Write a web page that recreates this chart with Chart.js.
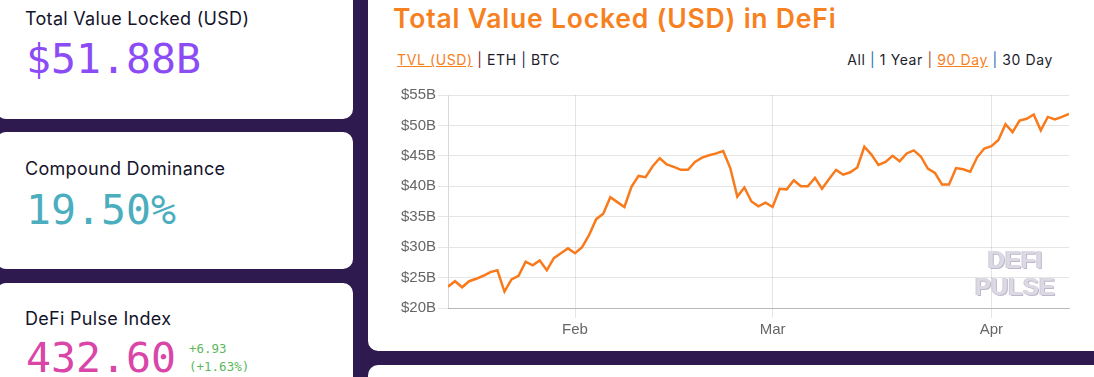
<!DOCTYPE html>
<html>
<head>
<meta charset="utf-8">
<script src="https://cdn.jsdelivr.net/npm/chart.js@4.4.0/dist/chart.umd.min.js"></script>
<style>
  body { margin: 0; width: 1094px; height: 377px; overflow: hidden; background: #2e1a4f; position: relative; font-family: Inter, "Noto Sans", sans-serif; }
  .card { position: absolute; background: #fff; border-radius: 10px; }
  .abs { position: absolute; white-space: nowrap; line-height: 1; }
  .label { font-size: 18px; color: #14142b; letter-spacing: 0.3px; }
  .big { font-family: "DejaVu Sans Mono", monospace; font-size: 41.5px; }
  .small { font-family: "DejaVu Sans Mono", monospace; font-size: 12.5px; color: #5cb85c; }
  .links { font-size: 14px; color: #1d1d2b; letter-spacing: 0.6px; }
  .links .on { color: #f7801f; text-decoration: underline; }
  #watermark { position: absolute; left: 955px; top: 246px; width: 120px; text-align: center; font-family: "Liberation Sans", Arial, sans-serif; font-weight: bold; font-size: 24px; line-height: 27px; color: #dcd9e4; text-shadow: 1px 1px 0 #bdb8cb, -1px 0 0 #cdc9d8; pointer-events: none; }
</style>
</head>
<body>
<div class="card" style="left:-4px; top:-20px; width:357px; height:139px;"></div>
<div class="card" style="left:-4px; top:132px; width:357px; height:137px;"></div>
<div class="card" style="left:-4px; top:283px; width:357px; height:150px;"></div>
<div class="card" style="left:368px; top:-20px; width:760px; height:371px;"></div>
<div class="card" style="left:368px; top:365px; width:760px; height:60px;"></div>

<div class="abs label" style="left:25px; top:10px;">Total Value Locked (USD)</div>
<div class="abs big" style="left:26px; top:38px; color:#8b4cf6;">$51.88B</div>
<div class="abs label" style="left:25px; top:160px;">Compound Dominance</div>
<div class="abs big" style="left:26px; top:189px; color:#4aaebf;">19.50%</div>
<div class="abs label" style="left:25px; top:310px;">DeFi Pulse Index</div>
<div class="abs big" style="left:26px; top:337px; color:#d946a8;">432.60</div>
<div class="abs small" style="left:189px; top:343px;">+6.93</div>
<div class="abs small" style="left:189px; top:361px;">(+1.63%)</div>

<div class="abs" style="left:393px; top:5px; font-size:26.5px; font-weight:600; letter-spacing:0.8px; color:#f7801f;">Total Value Locked (USD) in DeFi</div>
<div class="abs links" style="left:397px; top:53px;"><span class="on">TVL (USD)</span> <span style="color:#8b1a3a">|</span> ETH <span style="color:#1a2a5a">|</span> BTC</div>
<div class="abs links" style="right:41px; top:53px;">All <span style="color:#1f6fb5">|</span> 1 Year <span style="color:#a0522d">|</span> <span class="on">90 Day</span> <span style="color:#1f6fb5">|</span> 30 Day</div>

<div style="position:absolute; left:380px; top:80px; width:700px; height:260px;">
  <canvas id="tvlChart"></canvas>
</div>
<div id="watermark">DEFI<br>PULSE</div>

<script>
// ======================== Data (90 days, Jan 14 - Apr 12) ========================
const tvlUsdB = [23.5,24.4,23.4,24.4,24.8,25.3,25.9,26.2,22.7,24.7,
                 25.3,27.6,27.0,27.8,26.2,28.2,29.0,29.8,29.0,30.0,
                 32.0,34.6,35.5,38.2,37.4,36.6,39.9,41.7,41.5,43.3,
                 44.6,43.6,43.2,42.7,42.7,44.0,44.7,45.1,45.4,45.8,
                 43.0,38.3,39.8,37.5,36.7,37.3,36.6,39.6,39.5,41.0,
                 40.0,40.0,41.4,39.6,41.2,42.7,41.9,42.3,43.1,46.5,
                 45.2,43.5,44.0,45.0,44.1,45.4,45.9,44.9,42.9,42.2,
                 40.3,40.3,43.0,42.8,42.4,44.8,46.2,46.6,47.6,50.2,
                 48.9,50.8,51.1,51.8,49.2,51.4,51.0,51.4,51.88];
const monthTickDays = [18, 46, 77];          // day index of Feb 1, Mar 1, Apr 1
const monthLabels = ["Feb", "Mar", "Apr"];
const yTicks = [20, 25, 30, 35, 40, 45, 50, 55];

// ======================== Chart ========================
let ctx = document.getElementById('tvlChart').getContext('2d');

let tvlChart = new Chart(ctx, {
    type: 'line',
    data: {
        datasets: [{
            label: 'TVL (USD)',
            data: tvlUsdB.map((v, i) => ({ x: i, y: v })),
            borderColor: '#f97a1b',
            borderWidth: 2.5,
            pointRadius: 0,
            tension: 0,
            fill: false
        }]
    },
    options: {
        responsive: true,
        maintainAspectRatio: false,
        animation: false,
        layout: { padding: { top: 15, right: 11 } },
        plugins: { legend: { display: false }, tooltip: { enabled: false } },
        scales: {
            x: {
                type: 'linear',
                min: 0,
                max: tvlUsdB.length - 1,
                afterBuildTicks: scale => { scale.ticks = monthTickDays.map(v => ({ value: v })); },
                afterFit: scale => { scale.height = 32; },
                ticks: {
                    color: '#666',
                    font: { family: 'Liberation Sans', size: 15 },
                    padding: 3,
                    maxRotation: 0,
                    callback: v => monthLabels[monthTickDays.indexOf(v)]
                },
                grid: { color: 'rgba(0,0,0,0.1)', tickLength: 10 },
                border: { color: 'rgba(0,0,0,0.2)' }
            },
            y: {
                min: 20,
                max: 55,
                afterBuildTicks: scale => { scale.ticks = yTicks.map(v => ({ value: v })); },
                afterFit: scale => { scale.width = 68; },
                ticks: {
                    color: '#666',
                    font: { family: 'Liberation Sans', size: 15 },
                    padding: 2,
                    callback: v => '$' + v + 'B'
                },
                grid: { color: 'rgba(0,0,0,0.1)', tickLength: 10 },
                border: { color: 'rgba(0,0,0,0.15)' }
            }
        }
    }
});
</script>
</body>
</html>
